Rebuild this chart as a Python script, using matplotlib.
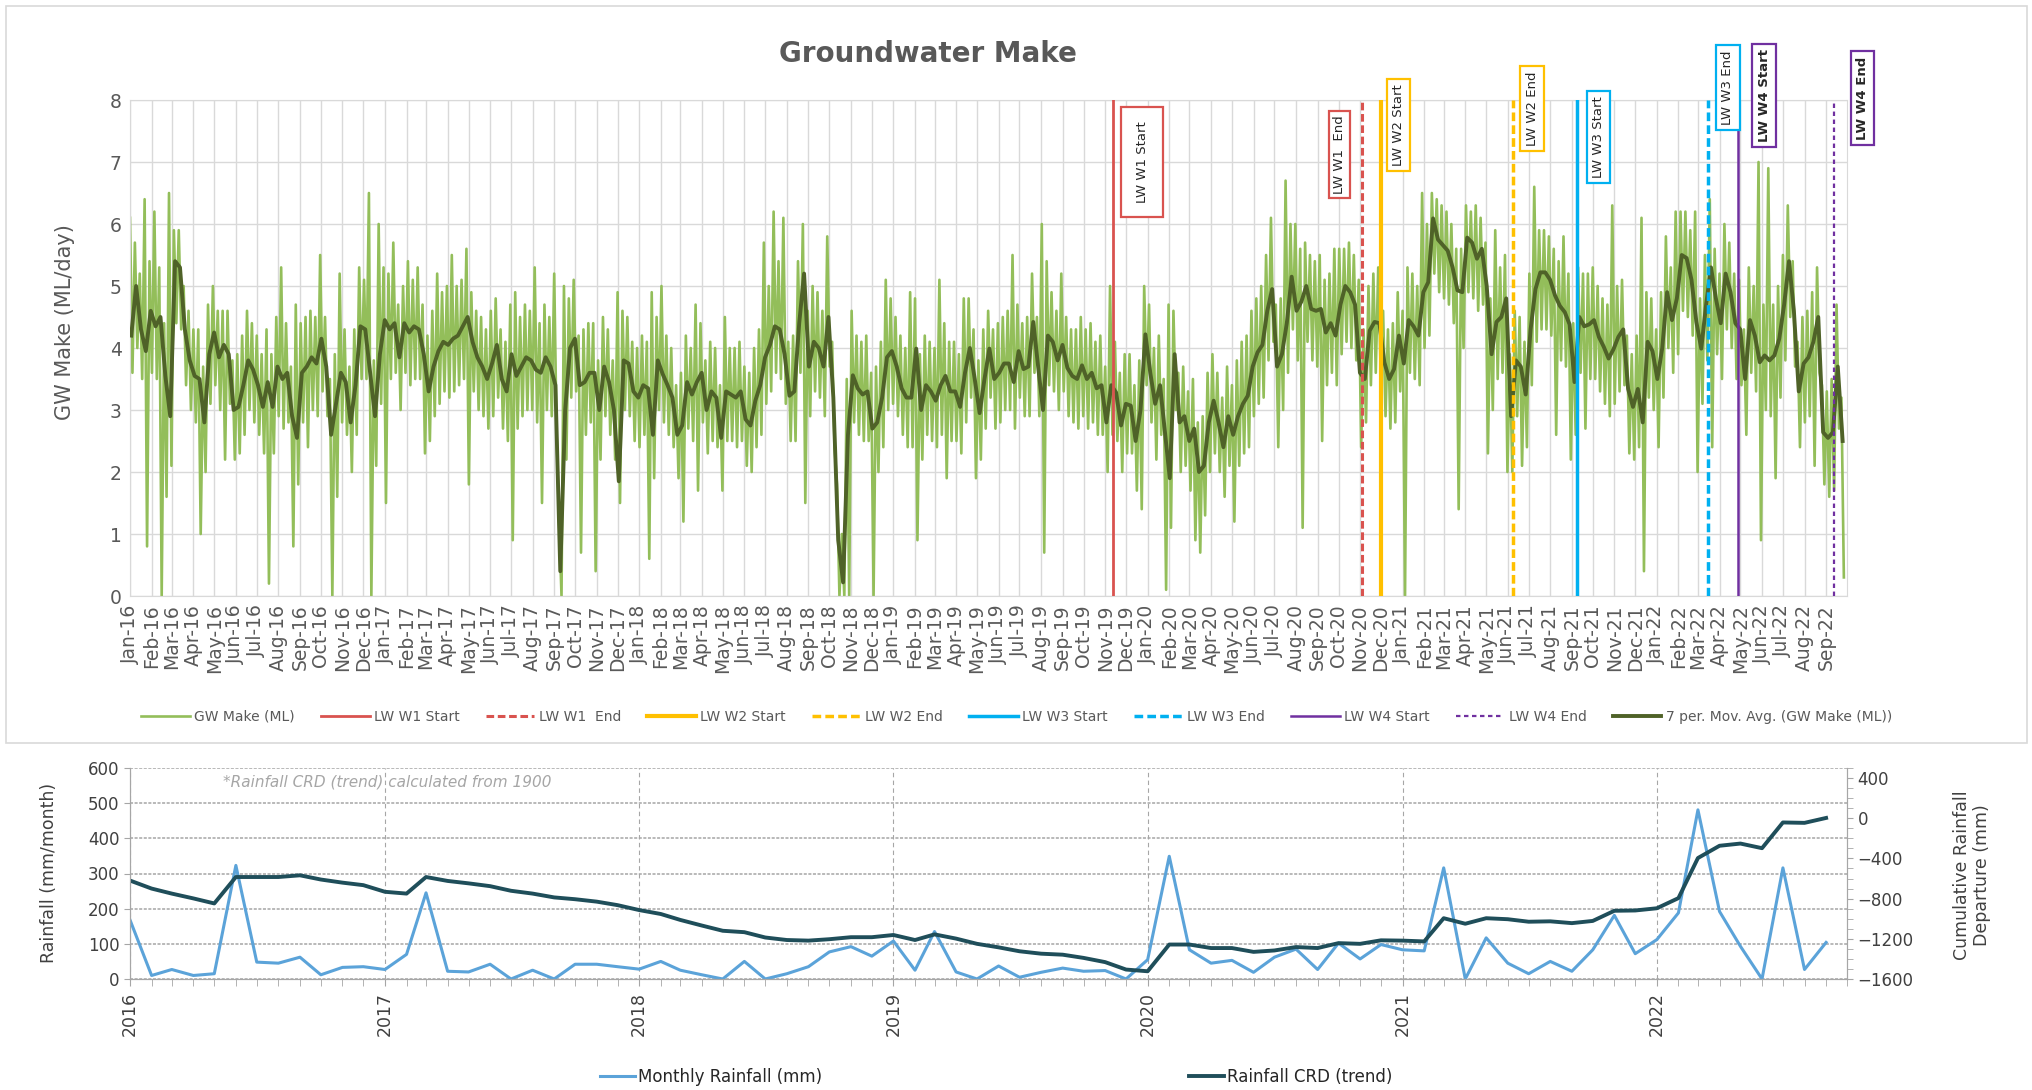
import numpy as np
import pandas as pd
import matplotlib
matplotlib.use("Agg")
import matplotlib.pyplot as plt
import matplotlib.dates as mdates
from matplotlib.patches import Rectangle
from matplotlib.ticker import MultipleLocator

# GW make, weekly 7-period moving average (ML/day)
ma_2016 = [4.2, 5.0, 4.3, 3.95, 4.6, 4.35, 4.5, 3.55, 2.9, 5.4, 5.3, 4.3, 3.8, 3.55, 3.5, 2.8, 3.9, 4.25,
           3.85, 4.05, 3.9, 3.0, 3.05, 3.4, 3.8, 3.65, 3.4, 3.05, 3.45, 3.05, 3.7, 3.5, 3.6, 2.9, 2.55, 3.6,
           3.7, 3.85, 3.75, 4.15, 3.7, 2.6, 3.1, 3.6, 3.45, 2.8, 3.4, 4.35, 4.3, 3.6, 2.9, 3.9, 4.45]
ma_2017 = [4.3, 4.4, 3.85, 4.4, 4.25, 4.35, 4.3, 3.9, 3.3, 3.7, 3.95, 4.1, 4.05, 4.15, 4.2, 4.35, 4.5, 4.1,
           3.85, 3.7, 3.5, 3.75, 4.05, 3.5, 3.3, 3.9, 3.55, 3.7, 3.85, 3.8, 3.65, 3.6, 3.85, 3.7, 3.4, 0.4,
           3.0, 4.0, 4.15, 3.4, 3.45, 3.6, 3.6, 3.0, 3.7, 3.45, 3.0, 1.85, 3.8, 3.75, 3.3, 3.2]
ma_2018 = [3.4, 3.35, 2.6, 3.8, 3.58, 3.4, 3.2, 2.6, 2.75, 3.45, 3.25, 3.45, 3.6, 3.0, 3.3, 3.2, 2.55, 3.3,
           3.25, 3.2, 3.3, 2.85, 2.75, 3.15, 3.4, 3.85, 4.05, 4.35, 4.3, 3.9, 3.23, 3.3, 4.4, 5.2, 3.7, 4.1,
           4.0, 3.7, 4.5, 3.2, 0.9, 0.22, 2.6, 3.56, 3.35, 3.25, 3.3, 2.7, 2.8, 3.2, 3.85, 3.95]
ma_2019 = [3.7, 3.35, 3.2, 3.2, 3.99, 3.0, 3.4, 3.3, 3.15, 3.4, 3.55, 3.3, 3.3, 3.05, 3.6, 4.0, 3.5, 2.95,
           3.5, 3.99, 3.5, 3.6, 3.75, 3.75, 3.45, 3.95, 3.66, 3.7, 4.42, 3.7, 3.0, 4.2, 4.1, 3.8, 4.05, 3.68,
           3.55, 3.5, 3.72, 3.5, 3.6, 3.35, 3.4, 2.8, 3.4, 3.28, 2.75, 3.1, 3.07, 2.5, 3.0, 4.22]
ma_2020 = [3.6, 3.1, 3.4, 2.65, 1.9, 3.9, 2.8, 2.9, 2.5, 2.7, 2.0, 2.1, 2.8, 3.15, 2.8, 2.4, 2.9, 2.6,
           2.9, 3.1, 3.23, 3.7, 3.93, 4.05, 4.6, 4.95, 3.7, 3.9, 4.4, 5.15, 4.6, 4.75, 5.0, 4.63, 4.6, 4.63,
           4.25, 4.4, 4.2, 4.7, 5.0, 4.9, 4.7, 3.6, 3.5, 4.28, 4.42, 4.4, 3.77, 3.5, 3.66, 4.2]
ma_2021 = [3.75, 4.45, 4.35, 4.2, 4.9, 5.06, 6.09, 5.75, 5.66, 5.57, 5.3, 4.93, 4.9, 5.78, 5.7, 5.44, 5.6, 5.0,
           3.9, 4.42, 4.5, 4.8, 2.9, 3.8, 3.7, 3.25, 4.3, 4.95, 5.22, 5.22, 5.1, 4.85, 4.68, 4.58, 4.38, 3.45,
           4.5, 4.35, 4.38, 4.45, 4.18, 4.02, 3.83, 3.98, 4.18, 4.3, 3.34, 3.05, 3.34, 2.8, 4.1, 3.95]
ma_2022 = [3.5, 4.0, 4.9, 4.45, 4.8, 5.5, 5.45, 5.1, 4.42, 3.99, 4.7, 5.3, 4.8, 4.4, 5.2, 4.9, 4.4, 4.3,
           3.5, 4.45, 4.2, 3.77, 3.88, 3.8, 3.88, 4.15, 4.7, 5.4, 4.6, 3.3, 3.75, 3.85, 4.1, 4.5, 2.64, 2.55,
           2.64, 3.7, 2.5]

# GW make daily series, read as the weekly high and low readings
hi_2016 = [6.1, 5.7, 5.2, 6.4, 5.4, 6.2, 5.3, 4.4, 6.5, 5.9, 5.9, 5.0, 4.6, 4.3, 4.3, 3.7, 4.7, 5.0, 4.6,
           4.6, 4.6, 3.8, 3.9, 4.2, 4.6, 4.4, 4.2, 3.9, 4.3, 3.9, 4.5, 5.3, 4.4, 3.7, 4.7, 4.4, 4.5, 4.6,
           4.5, 5.5, 4.5, 3.5, 3.9, 5.2, 4.3, 3.7, 4.3, 5.3, 5.1, 6.5, 3.8, 6.0, 5.3]
lo_2016 = [3.6, 4.0, 3.5, 0.8, 3.6, 3.5, 0.0, 1.6, 2.1, 4.4, 4.3, 3.4, 3.0, 2.8, 1.0, 2.0, 3.1, 3.4, 3.0,
           2.2, 3.1, 2.2, 2.3, 2.6, 3.0, 2.8, 2.6, 2.3, 0.2, 2.3, 2.9, 2.7, 2.8, 0.8, 1.8, 2.8, 2.4, 3.0,
           2.9, 3.3, 2.9, 0.0, 1.6, 2.8, 2.6, 2.0, 2.6, 3.5, 3.5, 0.0, 2.1, 3.1, 1.5]
hi_2017 = [5.2, 5.7, 4.7, 5.0, 5.4, 5.1, 5.3, 4.7, 4.2, 4.6, 5.2, 4.9, 5.0, 5.5, 5.0, 5.1, 5.6, 4.9, 4.6,
           4.5, 4.3, 4.6, 4.8, 4.3, 4.1, 4.7, 4.9, 4.5, 4.7, 4.6, 5.3, 4.4, 4.7, 4.5, 5.2, 1.2, 5.0, 4.8,
           5.1, 4.2, 4.3, 4.4, 4.4, 3.8, 4.5, 4.3, 3.8, 4.9, 4.6, 4.5, 4.1, 4.0]
lo_2017 = [3.5, 3.6, 3.0, 3.6, 3.4, 3.5, 3.5, 2.3, 2.5, 2.9, 3.1, 3.3, 3.2, 3.3, 3.4, 3.5, 1.8, 3.3, 3.0,
           2.9, 2.7, 2.9, 3.2, 2.7, 2.5, 0.9, 2.7, 2.9, 3.0, 3.0, 2.8, 1.5, 3.0, 2.9, 2.6, 0.0, 2.2, 3.2,
           3.3, 0.7, 2.6, 2.8, 0.4, 2.2, 2.9, 2.6, 2.2, 1.5, 3.0, 2.9, 2.5, 2.4]
hi_2018 = [4.2, 4.1, 4.9, 4.5, 5.0, 4.2, 4.0, 3.4, 3.6, 4.2, 4.0, 4.7, 4.4, 3.8, 4.1, 4.0, 3.4, 4.5, 4.0,
           4.0, 4.1, 3.7, 3.6, 4.0, 4.3, 5.7, 5.0, 6.2, 5.4, 6.1, 4.1, 4.2, 5.4, 6.0, 4.6, 5.0, 4.9, 4.6,
           5.8, 4.1, 1.8, 1.0, 3.5, 4.6, 4.2, 4.1, 4.2, 3.6, 3.7, 4.1, 5.1, 4.8]
lo_2018 = [2.6, 0.6, 1.9, 3.0, 2.8, 2.6, 2.4, 1.9, 1.2, 2.7, 2.5, 1.7, 2.8, 2.3, 2.5, 2.4, 1.7, 2.5, 2.5,
           2.4, 2.5, 2.1, 2.0, 2.4, 2.6, 3.1, 3.3, 3.6, 3.5, 3.1, 2.5, 2.5, 3.6, 1.5, 2.9, 3.3, 3.2, 2.9,
           3.7, 2.4, 0.0, 0.0, 0.0, 2.8, 2.6, 2.5, 2.5, 0.0, 2.0, 2.4, 3.0, 3.1]
hi_2019 = [4.5, 4.2, 4.0, 4.9, 4.8, 3.9, 4.2, 4.1, 4.0, 5.1, 4.4, 4.1, 4.1, 3.9, 4.8, 4.8, 4.3, 3.8, 4.3,
           4.6, 4.3, 4.4, 4.5, 4.6, 5.5, 4.7, 4.4, 4.5, 5.2, 4.5, 6.0, 5.4, 4.9, 4.6, 5.2, 4.5, 4.3, 4.3,
           4.5, 4.3, 4.4, 4.1, 4.2, 3.7, 5.0, 4.1, 3.6, 3.9, 3.9, 3.4, 3.8, 5.0]
lo_2019 = [2.9, 2.6, 2.4, 2.4, 0.9, 2.2, 2.6, 2.5, 2.4, 2.6, 1.9, 2.5, 2.5, 2.3, 2.8, 3.2, 1.9, 2.2, 2.7,
           3.2, 2.7, 2.8, 3.0, 3.0, 2.7, 3.2, 2.9, 2.9, 3.6, 2.9, 0.7, 3.4, 3.3, 3.0, 3.3, 2.9, 2.8, 2.7,
           2.9, 2.7, 2.8, 2.6, 2.6, 2.0, 2.6, 2.5, 2.0, 2.3, 2.3, 1.7, 1.4, 3.4]
hi_2020 = [4.7, 4.0, 4.2, 3.5, 4.7, 4.6, 3.6, 3.7, 3.3, 3.5, 2.8, 2.9, 3.6, 3.9, 3.6, 3.2, 3.7, 3.4, 3.8,
           4.1, 4.2, 4.6, 4.8, 5.0, 5.5, 6.1, 4.7, 4.8, 6.7, 6.0, 6.0, 5.6, 5.7, 5.5, 5.4, 5.5, 5.1, 5.2,
           5.6, 5.6, 5.6, 5.7, 5.5, 5.1, 4.3, 5.0, 5.2, 5.3, 4.6, 4.3, 4.4, 4.9]
lo_2020 = [2.8, 2.2, 2.6, 0.1, 1.1, 3.0, 2.0, 2.1, 1.7, 0.9, 0.7, 1.3, 2.0, 2.3, 2.0, 1.6, 2.1, 1.2, 2.1,
           2.3, 2.4, 2.9, 3.1, 3.2, 3.8, 4.1, 2.4, 3.0, 3.6, 4.3, 3.8, 1.1, 4.1, 3.8, 3.7, 2.5, 3.4, 3.6,
           3.4, 3.9, 4.1, 4.0, 3.8, 2.4, 2.8, 3.4, 3.6, 3.6, 2.9, 2.7, 2.8, 3.3]
hi_2021 = [4.6, 5.3, 5.2, 5.0, 6.5, 6.0, 6.5, 6.4, 6.3, 6.2, 6.0, 5.6, 5.6, 6.3, 6.2, 6.3, 6.1, 5.7, 4.8,
           5.9, 5.3, 5.5, 3.9, 4.6, 4.5, 4.1, 5.2, 6.6, 5.9, 5.9, 5.8, 5.6, 5.4, 5.8, 5.2, 4.4, 5.3, 5.2,
           5.2, 5.3, 5.0, 4.8, 4.7, 6.3, 5.0, 5.1, 4.2, 3.9, 4.2, 6.1, 4.9, 4.8]
lo_2021 = [0.0, 3.6, 3.5, 3.4, 4.0, 4.2, 5.2, 4.9, 4.8, 4.7, 4.4, 1.4, 4.0, 4.9, 4.8, 4.6, 4.7, 2.3, 3.0,
           3.5, 3.6, 2.0, 2.0, 2.9, 2.1, 2.4, 3.4, 4.1, 4.3, 4.3, 4.2, 2.6, 3.8, 3.7, 2.2, 2.6, 3.6, 2.7,
           3.5, 3.5, 3.3, 3.1, 2.9, 3.1, 3.3, 3.4, 2.3, 2.2, 2.4, 0.4, 3.2, 3.0]
hi_2022 = [4.3, 4.9, 5.8, 5.3, 6.2, 6.2, 6.2, 5.9, 6.2, 4.8, 5.5, 6.4, 5.6, 5.2, 6.0, 5.7, 5.2, 5.1, 4.3,
           5.3, 5.0, 7.0, 4.7, 6.9, 4.7, 5.0, 5.5, 6.3, 5.4, 4.1, 4.5, 4.6, 4.9, 5.3, 3.4, 3.3, 3.5, 4.7, 3.2]
lo_2022 = [2.4, 3.2, 4.0, 3.6, 3.9, 4.6, 4.5, 4.2, 2.0, 3.1, 3.8, 2.4, 3.9, 3.5, 4.3, 4.0, 3.5, 3.4, 2.6,
           3.6, 3.3, 0.9, 3.0, 2.9, 1.9, 3.2, 3.8, 4.5, 3.7, 2.4, 2.8, 2.9, 2.1, 3.6, 1.8, 1.6, 1.7, 2.7, 0.3]

# monthly rainfall (mm) and rainfall CRD trend (mm)
rain_2016 = [168, 10, 27, 10, 15, 323, 48, 45, 62, 12, 33, 35]
rain_2017 = [27, 70, 245, 22, 20, 42, 0, 25, 0, 42, 42, 35]
rain_2018 = [28, 50, 25, 12, 0, 50, 0, 15, 35, 77, 92, 65]
rain_2019 = [108, 25, 135, 20, 0, 37, 5, 19, 31, 22, 24, 0]
rain_2020 = [55, 349, 83, 45, 53, 19, 62, 85, 27, 102, 57, 98]
rain_2021 = [83, 80, 316, 0, 117, 45, 15, 50, 22, 83, 181, 72]
rain_2022 = [112, 188, 481, 192, 93, 0, 316, 27, 104]

crd_2016 = [-620, -700, -750, -798, -848, -585, -585, -585, -568, -610, -641, -666]
crd_2017 = [-732, -750, -585, -624, -648, -676, -722, -750, -788, -806, -830, -865]
crd_2018 = [-914, -953, -1012, -1068, -1120, -1134, -1187, -1212, -1218, -1204, -1184, -1184]
crd_2019 = [-1162, -1212, -1156, -1198, -1250, -1285, -1324, -1348, -1358, -1390, -1432, -1506]
crd_2020 = [-1523, -1257, -1257, -1292, -1292, -1330, -1316, -1282, -1292, -1243, -1250, -1215]
crd_2021 = [-1218, -1226, -995, -1050, -995, -1005, -1030, -1026, -1044, -1022, -921, -918]
crd_2022 = [-896, -795, -396, -274, -252, -298, -42, -46, 3]

# longwall panel events
events = ["LW W1 Start", "LW W1  End", "LW W2 Start", "LW W2 End",
          "LW W3 Start", "LW W3 End", "LW W4 Start", "LW W4 End"]
event_dates = ["2019-11-12", "2020-11-03", "2020-12-01", "2021-06-08",
               "2021-09-09", "2022-03-16", "2022-04-28", "2022-09-12"]

W, H = 2033, 1090
GREY = "#595959"


def main():
    start = np.datetime64("2016-01-01")
    end = np.datetime64("2022-10-01")

    ma = np.concatenate([ma_2016, ma_2017, ma_2018, ma_2019, ma_2020, ma_2021, ma_2022])
    hi = np.concatenate([hi_2016, hi_2017, hi_2018, hi_2019, hi_2020, hi_2021, hi_2022])
    lo = np.concatenate([lo_2016, lo_2017, lo_2018, lo_2019, lo_2020, lo_2021, lo_2022])
    gw = np.column_stack([hi, lo]).ravel()
    gw_dates = start + (np.arange(gw.size) * 84).astype("timedelta64[h]")
    ma_dates = start + (np.arange(ma.size) * 168 + 42).astype("timedelta64[h]")

    rain = np.concatenate([rain_2016, rain_2017, rain_2018, rain_2019, rain_2020, rain_2021, rain_2022])
    crd = np.concatenate([crd_2016, crd_2017, crd_2018, crd_2019, crd_2020, crd_2021, crd_2022])
    rain_dates = pd.date_range("2016-01-01", periods=rain.size, freq="MS").values

    fig = plt.figure(figsize=(W / 100, H / 100), dpi=100)
    fig.add_artist(Rectangle((6 / W, 1 - 743 / H), 2021 / W, 737 / H, transform=fig.transFigure,
                             fill=False, ec="#D9D9D9", lw=1.2))

    # ---------------- top: groundwater make ----------------
    ax = fig.add_axes([130 / W, 1 - 596 / H, 1717 / W, 496 / H])
    gw_line, = ax.plot(gw_dates, gw, color="#93BE5A", lw=1.9, zorder=2, label="GW Make (ML)")

    styles = [("#D9534F", 2.0, "-"), ("#D9534F", 2.2, (0, (2.5, 1.2))),
              ("#FFC000", 3.0, "-"), ("#FFC000", 2.5, (0, (2.5, 1.2))),
              ("#00B0F0", 2.5, "-"), ("#00B0F0", 2.5, (0, (2.5, 1.2))),
              ("#7030A0", 1.8, "-"), ("#7030A0", 1.6, (0, (2.0, 1.6)))]
    handles = [gw_line]
    for name, d, (c, lw, ls) in zip(events, event_dates, styles):
        h = ax.axvline(np.datetime64(d), color=c, lw=lw, ls=ls, zorder=4, label=name)
        handles.append(h)

    ma_line, = ax.plot(ma_dates, ma, color="#4F6228", lw=2.8, zorder=3,
                       label="7 per. Mov. Avg. (GW Make (ML))")
    handles.append(ma_line)

    # event label boxes
    boxes = [("2019-12-24", 7.0, 1.1), ("2020-10-03", 7.12, 0.3), ("2020-12-26", 7.6, 0.4),
             ("2021-07-06", 7.86, 0.4), ("2021-10-09", 7.4, 0.4), ("2022-04-13", 8.2, 0.4),
             ("2022-06-04", 8.07, 0.4), ("2022-10-23", 8.03, 0.4)]
    for name, (d, y, pad), (c, lw, ls) in zip(events, boxes, styles):
        ax.text(np.datetime64(d), y, name, rotation=90, ha="center", va="center", fontsize=9.5,
                color="#262626", fontweight="bold" if "W4" in name else "normal",
                bbox=dict(boxstyle=f"square,pad={pad}", fc="white", ec=c, lw=1.6),
                clip_on=False, zorder=6)

    ax.set_xlim(start, end)
    ax.set_ylim(0, 8)
    ax.set_yticks(range(0, 9))
    months = pd.date_range("2016-01-01", "2022-09-01", freq="MS")
    ax.set_xticks(months.values)
    ax.set_xticklabels([m.strftime("%b-%y") for m in months], rotation=90)
    ax.tick_params(length=0, labelsize=13.5, colors=GREY, pad=6)
    ax.grid(True, color="#D9D9D9", lw=1.0)
    ax.set_axisbelow(True)
    for s in ax.spines.values():
        s.set_color("#D9D9D9")

    fig.text(65 / W, 1 - 322 / H, "GW Make (ML/day)", rotation=90, ha="center", va="center",
             fontsize=15, color=GREY)
    fig.text(928 / W, 1 - 54 / H, "Groundwater Make", ha="center", va="center",
             fontsize=20, fontweight="bold", color=GREY)

    fig.legend(handles, [h.get_label() for h in handles], loc="center",
               bbox_to_anchor=(0.5, 1 - 717 / H), ncol=10, frameon=False, fontsize=10,
               handlelength=3.5, handletextpad=0.3, columnspacing=1.9, labelcolor=GREY)

    # ---------------- bottom: rainfall ----------------
    ax2 = fig.add_axes([130 / W, 1 - 979 / H, 1717 / W, 211 / H])
    rain_line, = ax2.plot(rain_dates, rain, color="#5BA3D9", lw=2.2)
    ax2.set_xlim(start, end)
    ax2.set_ylim(0, 600)
    ax2.set_yticks(range(0, 601, 100))
    years = pd.date_range("2016-01-01", "2022-01-01", freq="YS")
    ax2.set_xticks(years.values)
    ax2.set_xticklabels([str(y.year) for y in years], rotation=90)
    ax2.xaxis.set_minor_locator(mdates.MonthLocator())
    ax2.tick_params(axis="x", which="both", length=5, color="#A6A6A6", labelsize=12.5,
                    labelcolor="#404040", pad=4)
    ax2.tick_params(axis="y", length=4, color="#A6A6A6", labelsize=12, labelcolor="#404040")
    ax2.yaxis.grid(True, color="#A6A6A6", ls=(0, (2, 1)), lw=1.1)
    ax2.xaxis.grid(True, which="major", color="#A6A6A6", ls=(0, (4, 3)), lw=0.8)
    ax2.spines["top"].set_visible(False)
    for k in ("left", "bottom", "right"):
        ax2.spines[k].set_color("#A6A6A6")

    ax3 = ax2.twinx()
    crd_line, = ax3.plot(rain_dates, crd, color="#1F4E5A", lw=2.8)
    ax3.set_ylim(-1600, 500)
    ax3.set_yticks(range(-1600, 401, 400))
    ax3.yaxis.set_minor_locator(MultipleLocator(100))
    ax3.tick_params(axis="y", which="both", length=4, color="#A6A6A6", labelsize=12,
                    labelcolor="#404040")
    ax3.spines["top"].set_visible(False)
    for k in ("left", "bottom", "right"):
        ax3.spines[k].set_color("#A6A6A6")

    ax2.text(0.054, 0.934, "*Rainfall CRD (trend) calculated from 1900", transform=ax2.transAxes,
             fontsize=11, style="italic", color="#A6A6A6", va="center")

    fig.text(49 / W, 1 - 873 / H, "Rainfall (mm/month)", rotation=90, ha="center", va="center",
             fontsize=12.5, color="#404040")
    fig.text(1972 / W, 1 - 875 / H, "Cumulative Rainfall\nDeparture (mm)", rotation=90,
             ha="center", va="center", fontsize=12.5, color="#404040", linespacing=1.2)

    fig.legend([rain_line, crd_line], ["Monthly Rainfall (mm)", "Rainfall CRD (trend)"],
               loc="center", bbox_to_anchor=(0.49, 1 - 1077 / H), ncol=2, frameon=False,
               fontsize=12, handlelength=2.1, handletextpad=0.2, columnspacing=22,
               labelcolor="#262626")

    fig.savefig("out.png", dpi=100)


if __name__ == "__main__":
    main()
